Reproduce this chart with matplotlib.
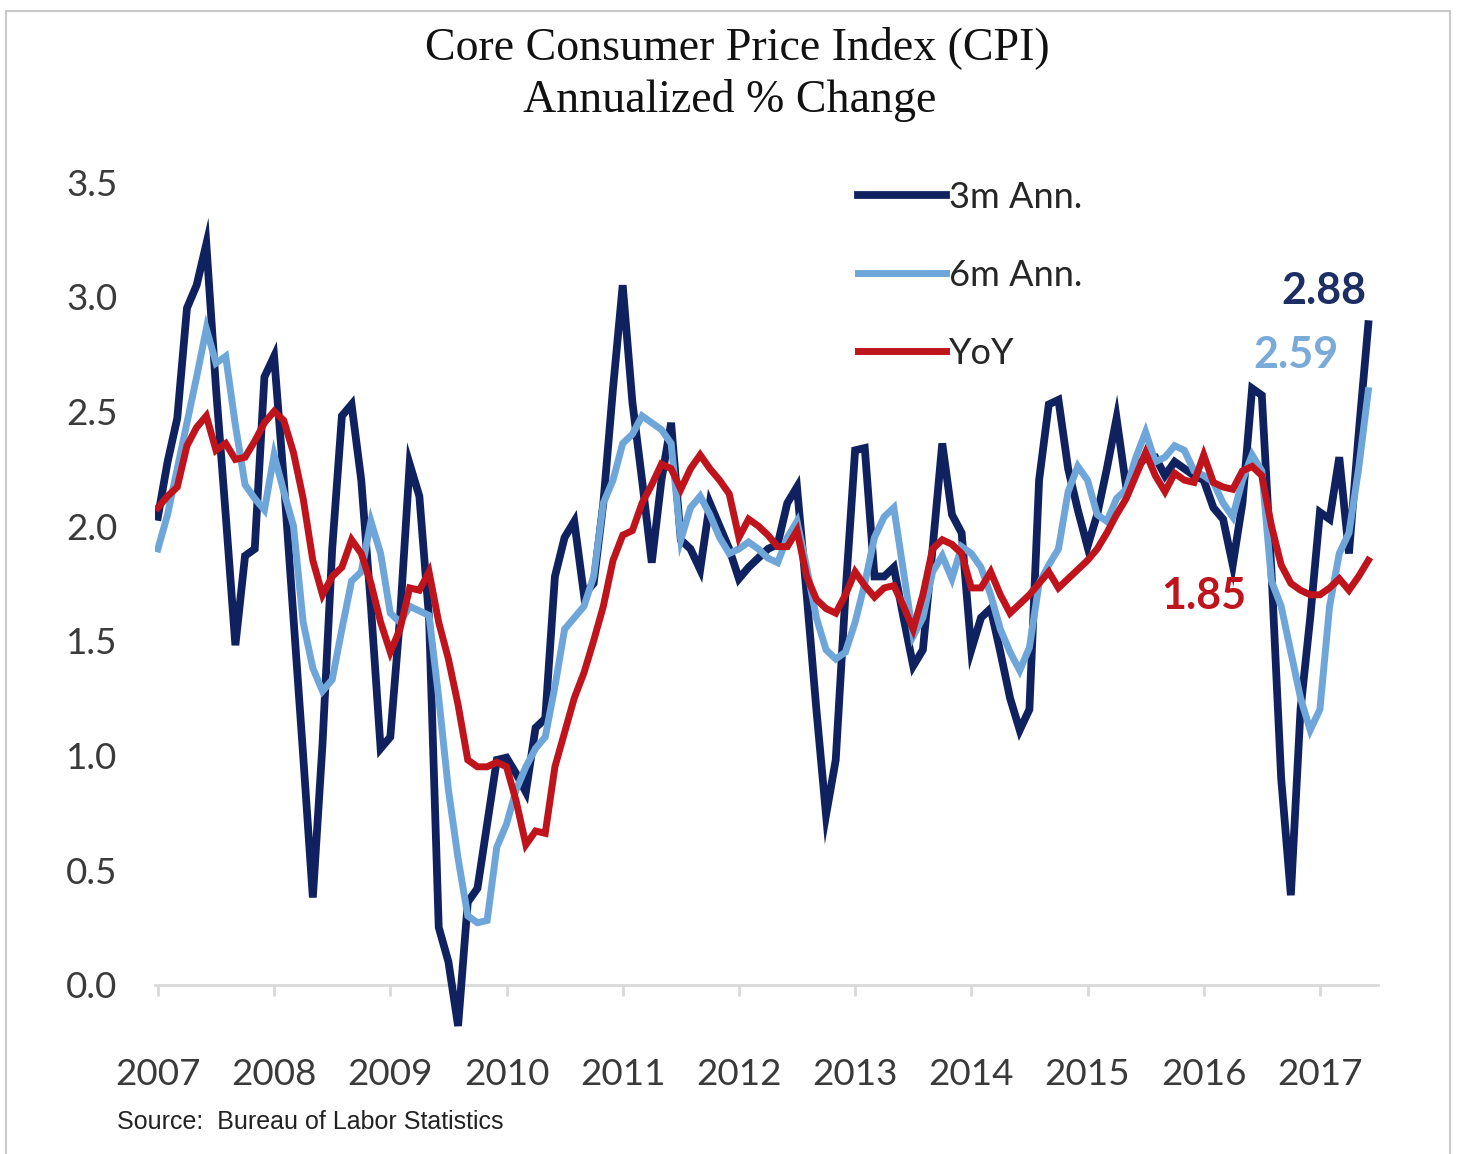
import numpy as np
import matplotlib
matplotlib.use('Agg')
import matplotlib.pyplot as plt
from matplotlib.patches import Rectangle

# monthly readings, Aug 2007 .. Jan 2018 (chart labels the ticks 2007..2017)
ann_3m = [2.04, 2.28, 2.47, 2.95, 3.05, 3.23, 2.60, 2.05, 1.48, 1.87, 1.90, 2.65,
          2.74, 2.20, 1.60, 1.00, 0.38, 1.05, 1.90, 2.48, 2.53, 2.20, 1.65, 1.03,
          1.08, 1.60, 2.27, 2.13, 1.60, 0.25, 0.10, -0.18, 0.36, 0.42, 0.70, 0.98,
          0.99, 0.92, 0.84, 1.12, 1.16, 1.78, 1.95, 2.02, 1.70, 1.75, 2.10, 2.60,
          3.05, 2.54, 2.20, 1.84, 2.20, 2.45, 1.94, 1.90, 1.81, 2.10, 2.00, 1.90,
          1.77, 1.82, 1.86, 1.90, 1.92, 2.10, 2.17, 1.70, 1.20, 0.74, 0.98, 1.70,
          2.33, 2.34, 1.78, 1.78, 1.82, 1.60, 1.39, 1.46, 1.90, 2.36, 2.05, 1.97,
          1.46, 1.60, 1.64, 1.45, 1.25, 1.11, 1.20, 2.20, 2.53, 2.55, 2.25, 2.07,
          1.91, 2.05, 2.25, 2.47, 2.17, 2.25, 2.30, 2.30, 2.22, 2.28, 2.25, 2.22,
          2.20, 2.08, 2.03, 1.83, 2.10, 2.60, 2.57, 1.80, 0.90, 0.39, 1.20, 1.60,
          2.06, 2.03, 2.30, 1.88, 2.40, 2.88]

ann_6m = [1.90, 2.05, 2.25, 2.45, 2.65, 2.86, 2.71, 2.74, 2.44, 2.18, 2.12, 2.07,
          2.31, 2.15, 2.00, 1.58, 1.38, 1.28, 1.33, 1.55, 1.76, 1.80, 2.02, 1.88,
          1.62, 1.58, 1.65, 1.63, 1.61, 1.25, 0.85, 0.55, 0.30, 0.27, 0.28, 0.60,
          0.70, 0.85, 0.95, 1.03, 1.08, 1.30, 1.55, 1.60, 1.65, 1.78, 2.10, 2.20,
          2.36, 2.40, 2.48, 2.45, 2.42, 2.36, 1.94, 2.08, 2.13, 2.05, 1.95, 1.88,
          1.90, 1.93, 1.90, 1.86, 1.84, 1.95, 2.02, 1.82, 1.60, 1.46, 1.42, 1.45,
          1.58, 1.75, 1.95, 2.04, 2.08, 1.80, 1.52, 1.60, 1.80, 1.87, 1.77, 1.91,
          1.88, 1.82, 1.70, 1.55, 1.45, 1.37, 1.47, 1.75, 1.83, 1.90, 2.15, 2.26,
          2.20, 2.05, 2.02, 2.12, 2.16, 2.30, 2.41, 2.28, 2.30, 2.35, 2.33, 2.24,
          2.22, 2.19, 2.10, 2.04, 2.20, 2.31, 2.24, 1.76, 1.65, 1.45, 1.25, 1.11,
          1.20, 1.65, 1.88, 1.97, 2.25, 2.59]

yoy = [2.08, 2.13, 2.17, 2.35, 2.43, 2.48, 2.33, 2.36, 2.29, 2.30, 2.37, 2.45,
       2.50, 2.46, 2.32, 2.12, 1.85, 1.70, 1.78, 1.82, 1.94, 1.88, 1.75, 1.58,
       1.45, 1.55, 1.73, 1.72, 1.80, 1.58, 1.42, 1.22, 0.98, 0.95, 0.95, 0.97,
       0.95, 0.80, 0.61, 0.67, 0.66, 0.95, 1.10, 1.25, 1.36, 1.50, 1.65, 1.85,
       1.96, 1.98, 2.10, 2.18, 2.27, 2.25, 2.16, 2.25, 2.31, 2.25, 2.20, 2.14,
       1.95, 2.03, 2.00, 1.96, 1.91, 1.91, 1.98, 1.78, 1.68, 1.64, 1.62, 1.70,
       1.80, 1.74, 1.69, 1.73, 1.74, 1.65, 1.55, 1.70, 1.90, 1.94, 1.92, 1.88,
       1.73, 1.73, 1.80, 1.70, 1.62, 1.66, 1.70, 1.75, 1.80, 1.73, 1.77, 1.81,
       1.85, 1.90, 1.97, 2.05, 2.12, 2.22, 2.32, 2.22, 2.15, 2.23, 2.20, 2.19,
       2.31, 2.19, 2.17, 2.16, 2.24, 2.26, 2.22, 2.00, 1.83, 1.75, 1.72, 1.70,
       1.70, 1.73, 1.77, 1.72, 1.78, 1.85]

years = ['2007', '2008', '2009', '2010', '2011', '2012',
         '2013', '2014', '2015', '2016', '2017']
y_ticks = [0.0, 0.5, 1.0, 1.5, 2.0, 2.5, 3.0, 3.5]

navy = '#0f225f'
light = '#6fa6da'
red = '#c0141c'
txt = '#3a3a3a'

W, H = 1458, 1154
fig = plt.figure(figsize=(W / 100, H / 100), dpi=100)
fig.patch.set_facecolor('white')

# thin grey frame round the chart
fig.add_artist(Rectangle((6 / W, -0.01), (1450 - 6) / W, 1.01 - 11 / H,
                         transform=fig.transFigure, fill=False,
                         edgecolor='#c9c9c9', lw=1.5))

ax = fig.add_axes([155 / W, 1 - 1042 / H, (1378 - 155) / W, 860 / H])
x = np.arange(len(ann_3m))

l1, = ax.plot(x, ann_3m, color=navy, lw=5.6, solid_joinstyle='miter',
              label='3m Ann.')
l2, = ax.plot(x, ann_6m, color=light, lw=5.0, solid_joinstyle='miter',
              label='6m Ann.')
l3, = ax.plot(x, yoy, color=red, lw=5.0, solid_joinstyle='miter', label='YoY')

ax.set_xlim(-0.3, 126.0)
ax.set_ylim(-0.25, 3.5)

for s in ['top', 'right', 'left']:
    ax.spines[s].set_visible(False)
ax.spines['bottom'].set_position(('data', 0))
ax.spines['bottom'].set_color('#d9d9d9')
ax.spines['bottom'].set_linewidth(2)
ax.spines['bottom'].set_zorder(0)

ax.set_xticks(np.arange(0, 12 * len(years), 12))
ax.set_xticklabels(years)
ax.tick_params(axis='x', direction='out', length=8, width=2, color='#d9d9d9',
               pad=45, labelsize=26.5, labelcolor=txt)
ax.set_yticks(y_ticks)
ax.set_yticklabels([f'{v:.1f}' for v in y_ticks])
ax.tick_params(axis='y', length=0, pad=27, labelsize=26.5, labelcolor=txt)
for lab in ax.get_xticklabels() + ax.get_yticklabels():
    lab.set_family('Lato')

leg = ax.legend(handles=[l1, l2, l3], loc='upper left',
                bbox_to_anchor=(858 / W, 1 - 181 / H),
                bbox_transform=fig.transFigure, frameon=False,
                borderpad=0, borderaxespad=0, handlelength=2.45,
                handletextpad=0.08, labelspacing=1.24,
                prop={'family': 'Lato', 'size': 26})
for t in leg.get_texts():
    t.set_color('#262626')

# end-of-series values
ax.text(x[-1] - 0.2, 3.025, f'{ann_3m[-1]:.2f}', color='#1c2e63',
        ha='right', va='center', family='Lato', weight='bold', size=31)
ax.text(x[-1] - 3.1, 2.746, f'{ann_6m[-1]:.2f}', color='#7aaad8',
        ha='right', va='center', family='Lato', weight='bold', size=31)
ax.text(x[-1] - 12.6, 1.696, f'{yoy[-1]:.2f}', color=red,
        ha='right', va='center', family='Lato', weight='bold', size=31)

fig.text(737 / W, 1 - 48 / H, 'Core Consumer Price Index (CPI)',
         ha='center', va='center', family='Liberation Serif', size=33,
         color='#111111')
fig.text(730 / W, 1 - 100 / H, 'Annualized % Change',
         ha='center', va='center', family='Liberation Serif', size=33,
         color='#111111')
fig.text(117 / W, 1 - 1122 / H, 'Source:  Bureau of Labor Statistics',
         ha='left', va='center', family='Liberation Sans', size=18,
         color='#222222')

fig.savefig('out.png', dpi=100, facecolor='white')
